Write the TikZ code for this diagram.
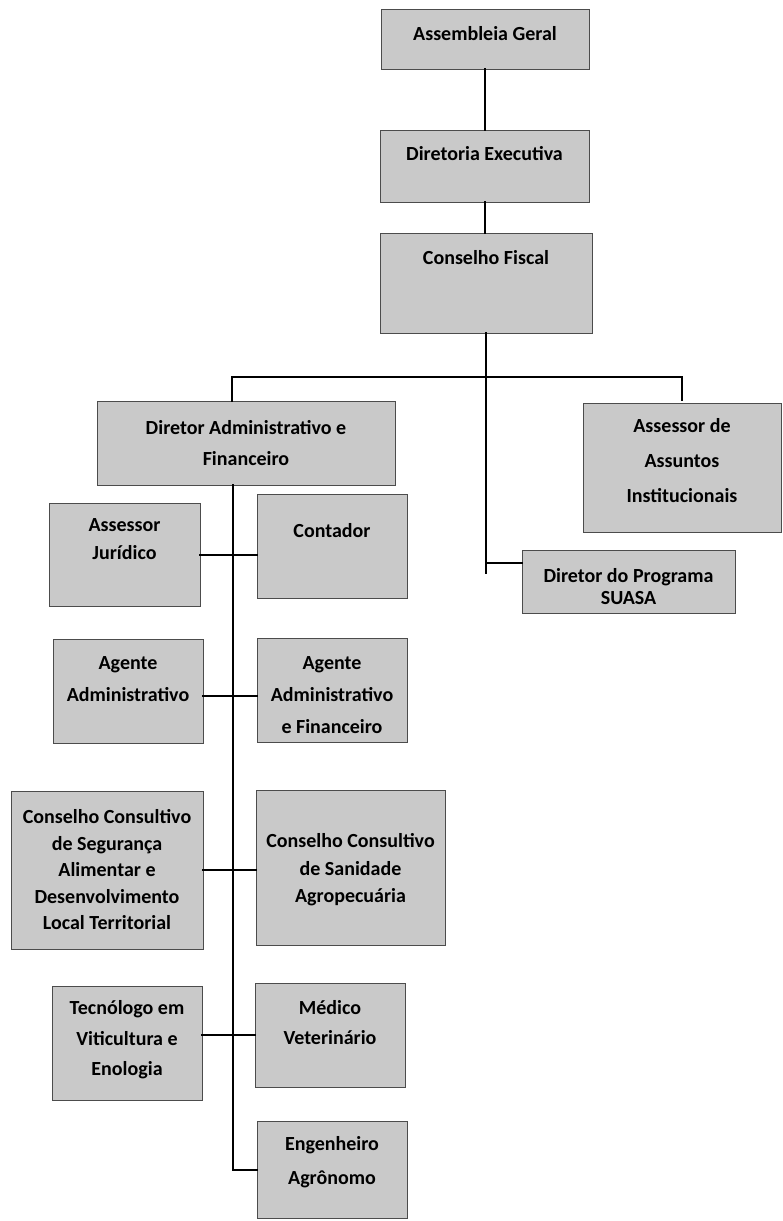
\documentclass[tikz,border=0pt]{standalone}
\usepackage{fontspec}
\setmainfont{Carlito}
\usetikzlibrary{calc}

\tikzset{
	box/.style={draw=black!70, fill=black!21, line width=0.8pt, inner sep=0pt},
	lbl/.style={font=\bfseries\fontsize{20}{#1}\selectfont, align=center, anchor=north, inner sep=0pt},
	lbl/.default=30,
	link/.style={line width=2pt, line cap=rect}
}

\begin{document}
\begin{tikzpicture}[x=1pt, y=-1pt]
	\useasboundingbox (0,0) rectangle (783,1221);

	% top of the chart
	\node[box, minimum width=208pt, minimum height=60pt, label={[lbl, yshift=-18pt]north:Assembleia Geral}] (geral) at (485,39) {};
	\node[box, minimum width=209pt, minimum height=72pt, label={[lbl, yshift=-17pt]north:Diretoria Executiva}] (diretoria) at (484.5,166) {};
	\node[box, minimum width=212pt, minimum height=100pt, label={[lbl, yshift=-18pt]north:Conselho Fiscal}] (fiscal) at (486,283) {};

	% second level
	\node[box, minimum width=298pt, minimum height=84pt, label={[lbl=31, yshift=-20pt]north:Diretor Administrativo e\\Financeiro}] (dirfin) at (246,443) {};
	\node[box, minimum width=198pt, minimum height=129pt, label={[lbl=35, yshift=-16pt]north:Assessor de\\Assuntos\\Institucionais}] (assuntos) at (682,467.5) {};
	\node[box, minimum width=213pt, minimum height=63pt, label={[lbl=22, yshift=-19pt]north:Diretor do Programa\\SUASA}] (suasa) at (628.5,581.5) {};

	% under the Diretor Administrativo e Financeiro
	\node[box, minimum width=151pt, minimum height=103pt, label={[lbl=28, yshift=-16pt]north:Assessor\\Jurídico}] (juridico) at (124.5,554.5) {};
	\node[box, minimum width=150pt, minimum height=104pt, label={[lbl, yshift=-30pt]north:Contador}] (contador) at (332,546) {};
	\node[box, minimum width=150pt, minimum height=104pt, label={[lbl=32, yshift=-18pt]north:Agente\\Administrativo}] (agadm) at (128,691) {};
	\node[box, minimum width=150pt, minimum height=104pt, label={[lbl=32, yshift=-19pt]north:Agente\\Administrativo\\e Financeiro}] (agfin) at (332,690) {};
	\node[box, minimum width=192pt, minimum height=158pt, label={[lbl=26.5, yshift=-19pt]north:Conselho Consultivo\\de Segurança\\Alimentar e\\Desenvolvimento\\Local Territorial}] (ccseg) at (107,870) {};
	\node[box, minimum width=189pt, minimum height=155pt, label={[lbl=27.5, yshift=-44pt]north:Conselho Consultivo\\de Sanidade\\Agropecuária}] (ccsan) at (350.5,867.5) {};
	\node[box, minimum width=150pt, minimum height=114pt, label={[lbl=30.5, yshift=-15pt]north:Tecnólogo em\\Viticultura e\\Enologia}] (tecnologo) at (127,1043) {};
	\node[box, minimum width=150pt, minimum height=104pt, label={[lbl, yshift=-18pt]north:Médico\\Veterinário}] (medico) at (330,1035) {};
	\node[box, minimum width=150pt, minimum height=97pt, label={[lbl=34, yshift=-16pt]north:Engenheiro\\Agrônomo}] (engenheiro) at (332,1169.5) {};

	% connectors
	\coordinate (barL) at (232,377);
	\coordinate (barR) at (682,377);
	\coordinate (tickR) at (682,400);
	\coordinate (trunkR) at (486,573);
	\coordinate (sjoin) at (486,563);
	\coordinate (trunkL) at (233,485);

	\draw[link] (geral.south) -- (geral.south |- diretoria.north);
	\draw[link] (diretoria.south) -- (diretoria.south |- fiscal.north);
	\draw[link] (fiscal.south) -- (trunkR);
	\draw[link] (barL) -- (barR) -- (tickR);
	\draw[link] (barL) -- (barL |- dirfin.north);
	\draw[link] (sjoin) -- (sjoin -| suasa.west);
	\draw[link] (trunkL) |- (engenheiro.west);
	\draw[link] (juridico.east) -- (juridico.east -| contador.west);
	\draw[link] ([yshift=-5pt]agadm.east) -- ([yshift=-5pt]agadm.east -| agfin.west);
	\draw[link] (ccseg.east) -- (ccseg.east -| ccsan.west);
	\draw[link] (medico.west) -- (medico.west -| tecnologo.east);
\end{tikzpicture}
\end{document}
